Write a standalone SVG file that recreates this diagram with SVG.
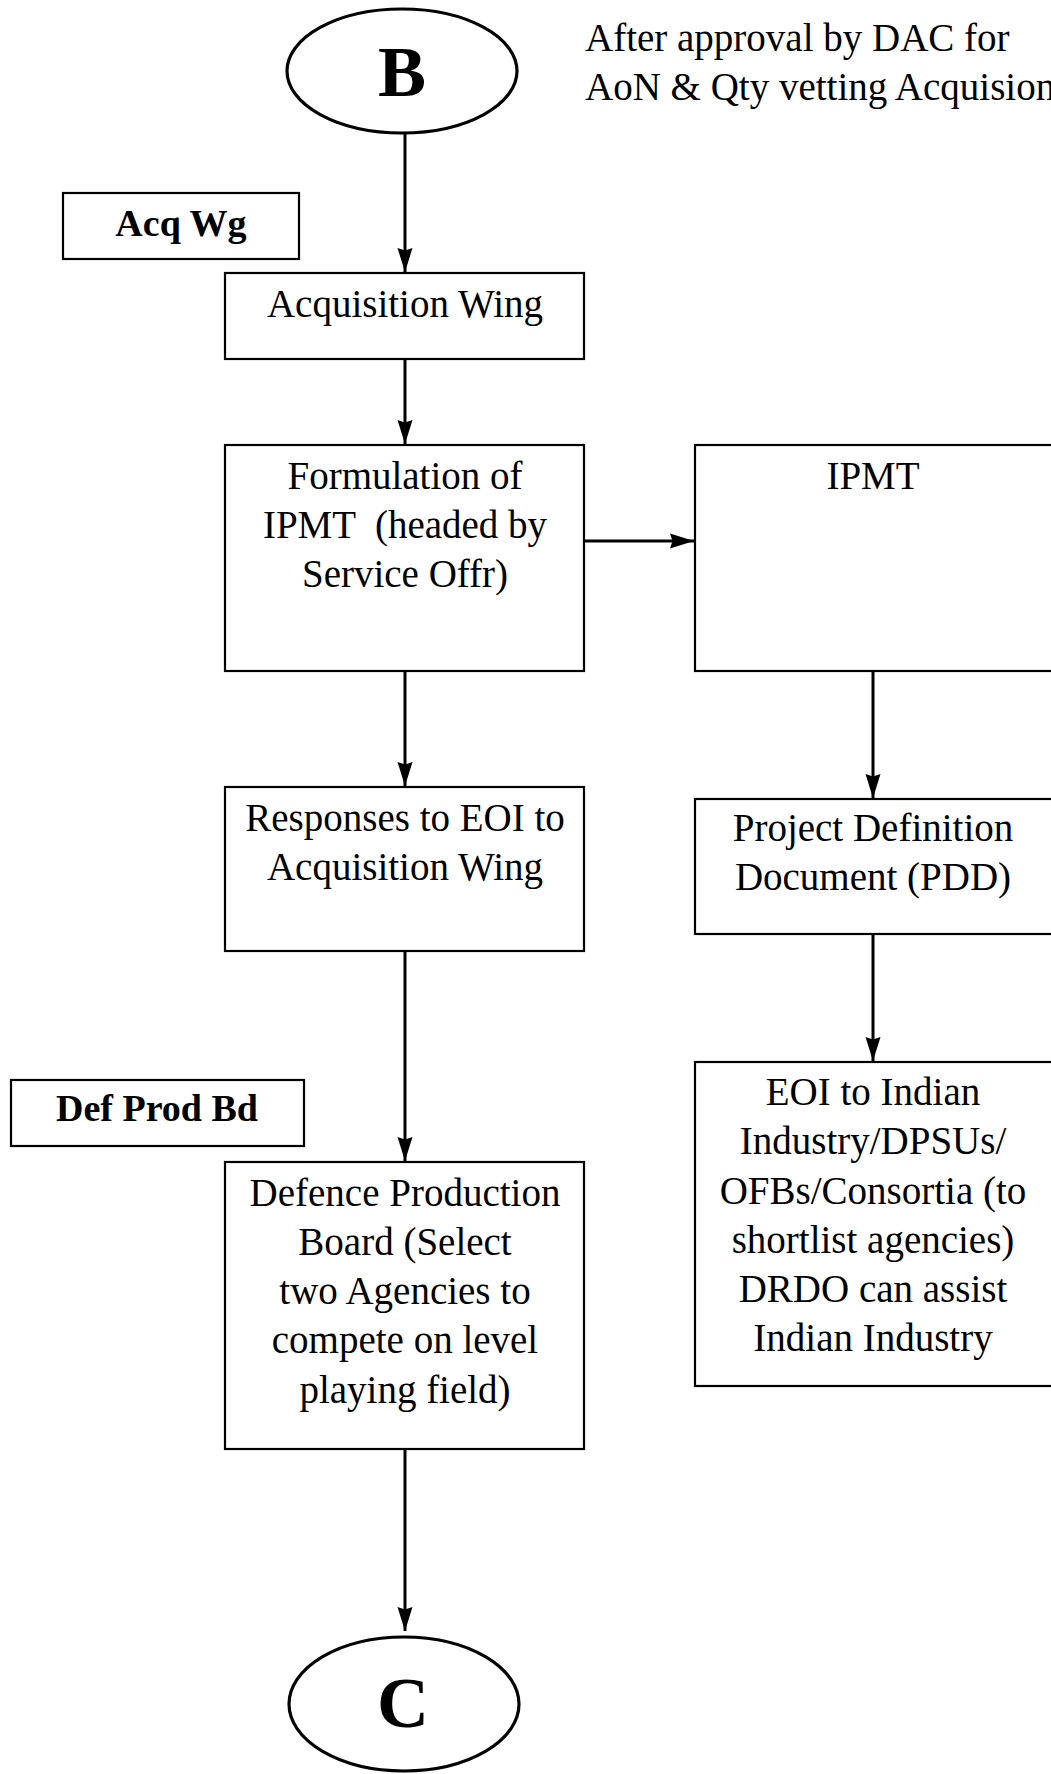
<svg xmlns="http://www.w3.org/2000/svg" width="1051" height="1774" viewBox="0 0 1051 1774">
  <style>
    .box { fill: #fff; stroke: #000; stroke-width: 2.2; }
    .oval { fill: #fff; stroke: #000; stroke-width: 3.2; }
    .t { font-family: "Liberation Serif", "Times New Roman", serif; font-size: 39px; fill: #000; text-anchor: middle; }
    .tl { font-family: "Liberation Serif", "Times New Roman", serif; font-size: 39px; fill: #000; }
    .b { font-family: "Liberation Serif", "Times New Roman", serif; font-size: 38px; font-weight: bold; fill: #000; text-anchor: middle; }
    .big { font-family: "Liberation Serif", "Times New Roman", serif; font-size: 72px; font-weight: bold; fill: #000; text-anchor: middle; }
    .edge { stroke: #000; stroke-width: 3; fill: none; marker-end: url(#arrow); }
  </style>
  <defs>
    <!-- solid arrowhead, tip at the end of the line -->
    <marker id="arrow" markerUnits="userSpaceOnUse" markerWidth="24" markerHeight="18" viewBox="0 0 24 18" refX="24" refY="9" orient="auto">
      <path d="M0,1.5 L24,9 L0,16.5 L2.5,9 Z" fill="#000"/>
    </marker>
  </defs>
  <rect width="1051" height="1774" fill="#fff"/>

  <g id="connectors">
    <line class="edge" x1="405" y1="134" x2="405" y2="272"/>
    <line class="edge" x1="405" y1="359" x2="405" y2="444"/>
    <line class="edge" x1="584" y1="541" x2="694" y2="541"/>
    <line class="edge" x1="405" y1="671" x2="405" y2="786"/>
    <line class="edge" x1="873" y1="671" x2="873" y2="798"/>
    <line class="edge" x1="873" y1="934" x2="873" y2="1061"/>
    <line class="edge" x1="405" y1="951" x2="405" y2="1161"/>
    <line class="edge" x1="405" y1="1449" x2="405" y2="1631"/>
  </g>

  <g id="node-b">
    <ellipse class="oval" cx="402" cy="71" rx="115" ry="62"/>
    <text class="big" x="402" y="96">B</text>
  </g>

  <g id="note-dac">
    <text class="tl" x="585" y="51">After approval by DAC for</text>
    <text class="tl" x="585" y="100">AoN &amp; Qty vetting Acquision</text>
  </g>

  <g id="label-acq-wg">
    <rect class="box" x="63" y="193" width="236" height="66"/>
    <text class="b" x="181" y="236">Acq Wg</text>
  </g>

  <g id="node-acquisition-wing">
    <rect class="box" x="225" y="273" width="359" height="86"/>
    <text class="t" x="405" y="317">Acquisition Wing</text>
  </g>

  <g id="node-formulation">
    <rect class="box" x="225" y="445" width="359" height="226"/>
    <text class="t" x="405" y="489">Formulation of</text>
    <text class="t" x="405" y="538" xml:space="preserve">IPMT  (headed by</text>
    <text class="t" x="405" y="587">Service Offr)</text>
  </g>

  <g id="node-ipmt">
    <rect class="box" x="695" y="445" width="360" height="226"/>
    <text class="t" x="873" y="489">IPMT</text>
  </g>

  <g id="node-responses">
    <rect class="box" x="225" y="787" width="359" height="164"/>
    <text class="t" x="405" y="831">Responses to EOI to</text>
    <text class="t" x="405" y="880">Acquisition Wing</text>
  </g>

  <g id="node-pdd">
    <rect class="box" x="695" y="799" width="360" height="135"/>
    <text class="t" x="873" y="841">Project Definition</text>
    <text class="t" x="873" y="890">Document (PDD)</text>
  </g>

  <g id="node-eoi">
    <rect class="box" x="695" y="1062" width="360" height="324"/>
    <text class="t" x="873" y="1105">EOI to Indian</text>
    <text class="t" x="873" y="1154">Industry/DPSUs/</text>
    <text class="t" x="873" y="1204">OFBs/Consortia (to</text>
    <text class="t" x="873" y="1253">shortlist agencies)</text>
    <text class="t" x="873" y="1302">DRDO can assist</text>
    <text class="t" x="873" y="1351">Indian Industry</text>
  </g>

  <g id="label-def-prod-bd">
    <rect class="box" x="11" y="1080" width="293" height="66"/>
    <text class="b" x="157" y="1121">Def Prod Bd</text>
  </g>

  <g id="node-defence-production-board">
    <rect class="box" x="225" y="1162" width="359" height="287"/>
    <text class="t" x="405" y="1206">Defence Production</text>
    <text class="t" x="405" y="1255">Board (Select</text>
    <text class="t" x="405" y="1304">two Agencies to</text>
    <text class="t" x="405" y="1353">compete on level</text>
    <text class="t" x="405" y="1403">playing field)</text>
  </g>

  <g id="node-c">
    <ellipse class="oval" cx="404" cy="1704" rx="115" ry="67"/>
    <text class="big" x="403" y="1727">C</text>
  </g>
</svg>
